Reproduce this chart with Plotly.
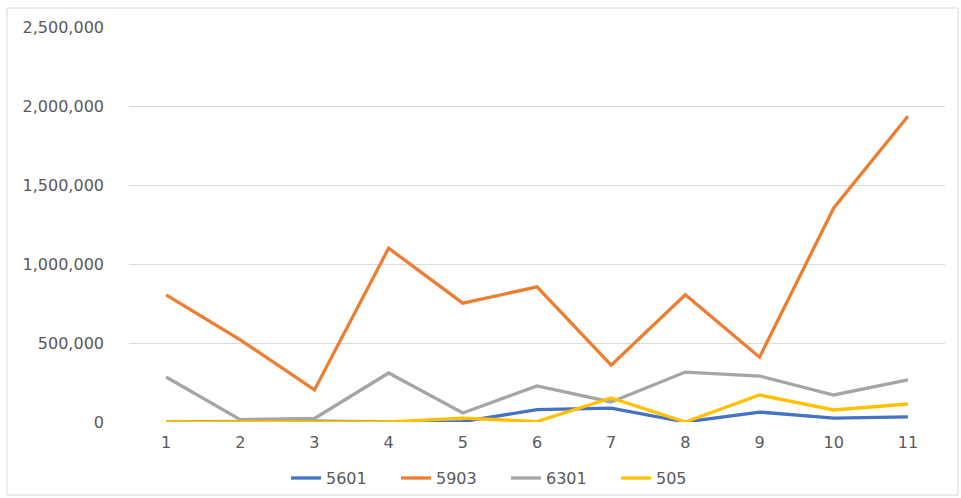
import plotly.graph_objects as go

categories = [str(i) for i in range(1, 12)]
series_names = ["5601", "5903", "6301", "505"]
s5601 = [0, 5000, 5000, 0, 3000, 78000, 88000, 0, 63000, 25000, 32000]
s5903 = [805000, 520000, 203000, 1100000, 752000, 855000, 360000, 805000, 410000, 1355000, 1935000]
s6301 = [285000, 15000, 22000, 310000, 57000, 228000, 127000, 316000, 291000, 171000, 266000]
s505 = [0, 0, 0, 0, 25000, 3000, 152000, 0, 171000, 76000, 114000]
colors = ["#4472C4", "#ED7D31", "#A5A5A5", "#FFC000"]
y_ticks = [0, 500000, 1000000, 1500000, 2000000, 2500000]
y_tick_labels = ["0", "500,000", "1,000,000", "1,500,000", "2,000,000", "2,500,000"]

fig = go.Figure()
for name, vals, col in zip(series_names, [s5601, s5903, s6301, s505], colors):
    fig.add_trace(go.Scatter(x=categories, y=vals, name=name, mode="lines",
                             line=dict(color=col, width=3.3)))

FONT = "DejaVu Sans"
TXT = "#595959"
fig.update_layout(
    width=961, height=498,
    margin=dict(l=129, r=16, t=27, b=76, autoexpand=False),
    paper_bgcolor="white", plot_bgcolor="white",
    font=dict(family=FONT, size=16, color=TXT),
    showlegend=True,
    legend=dict(orientation="h", x=0.462, xanchor="center", y=-0.142, yanchor="middle",
                font=dict(family=FONT, size=16, color=TXT), entrywidth=65,
                traceorder="normal", bgcolor="rgba(0,0,0,0)"),
    xaxis=dict(type="category", range=[-0.5, 10.5], showgrid=False, showline=False,
               zeroline=False, ticks="", ticklabelstandoff=9,
               tickfont=dict(family=FONT, size=16, color=TXT)),
    yaxis=dict(range=[0, 2500000], tickvals=y_ticks, ticktext=y_tick_labels,
               showgrid=True, gridcolor="#D9D9D9", gridwidth=1, zeroline=False,
               showline=False, ticks="", ticklabelstandoff=24,
               tickfont=dict(family=FONT, size=16, color=TXT)),
    shapes=[dict(type="rect", xref="paper", yref="paper",
                 x0=-0.1495, x1=1.016, y0=-0.185, y1=1.048,
                 line=dict(color="#D9D9D9", width=1), layer="below")],
)

fig.write_html("out.html")
